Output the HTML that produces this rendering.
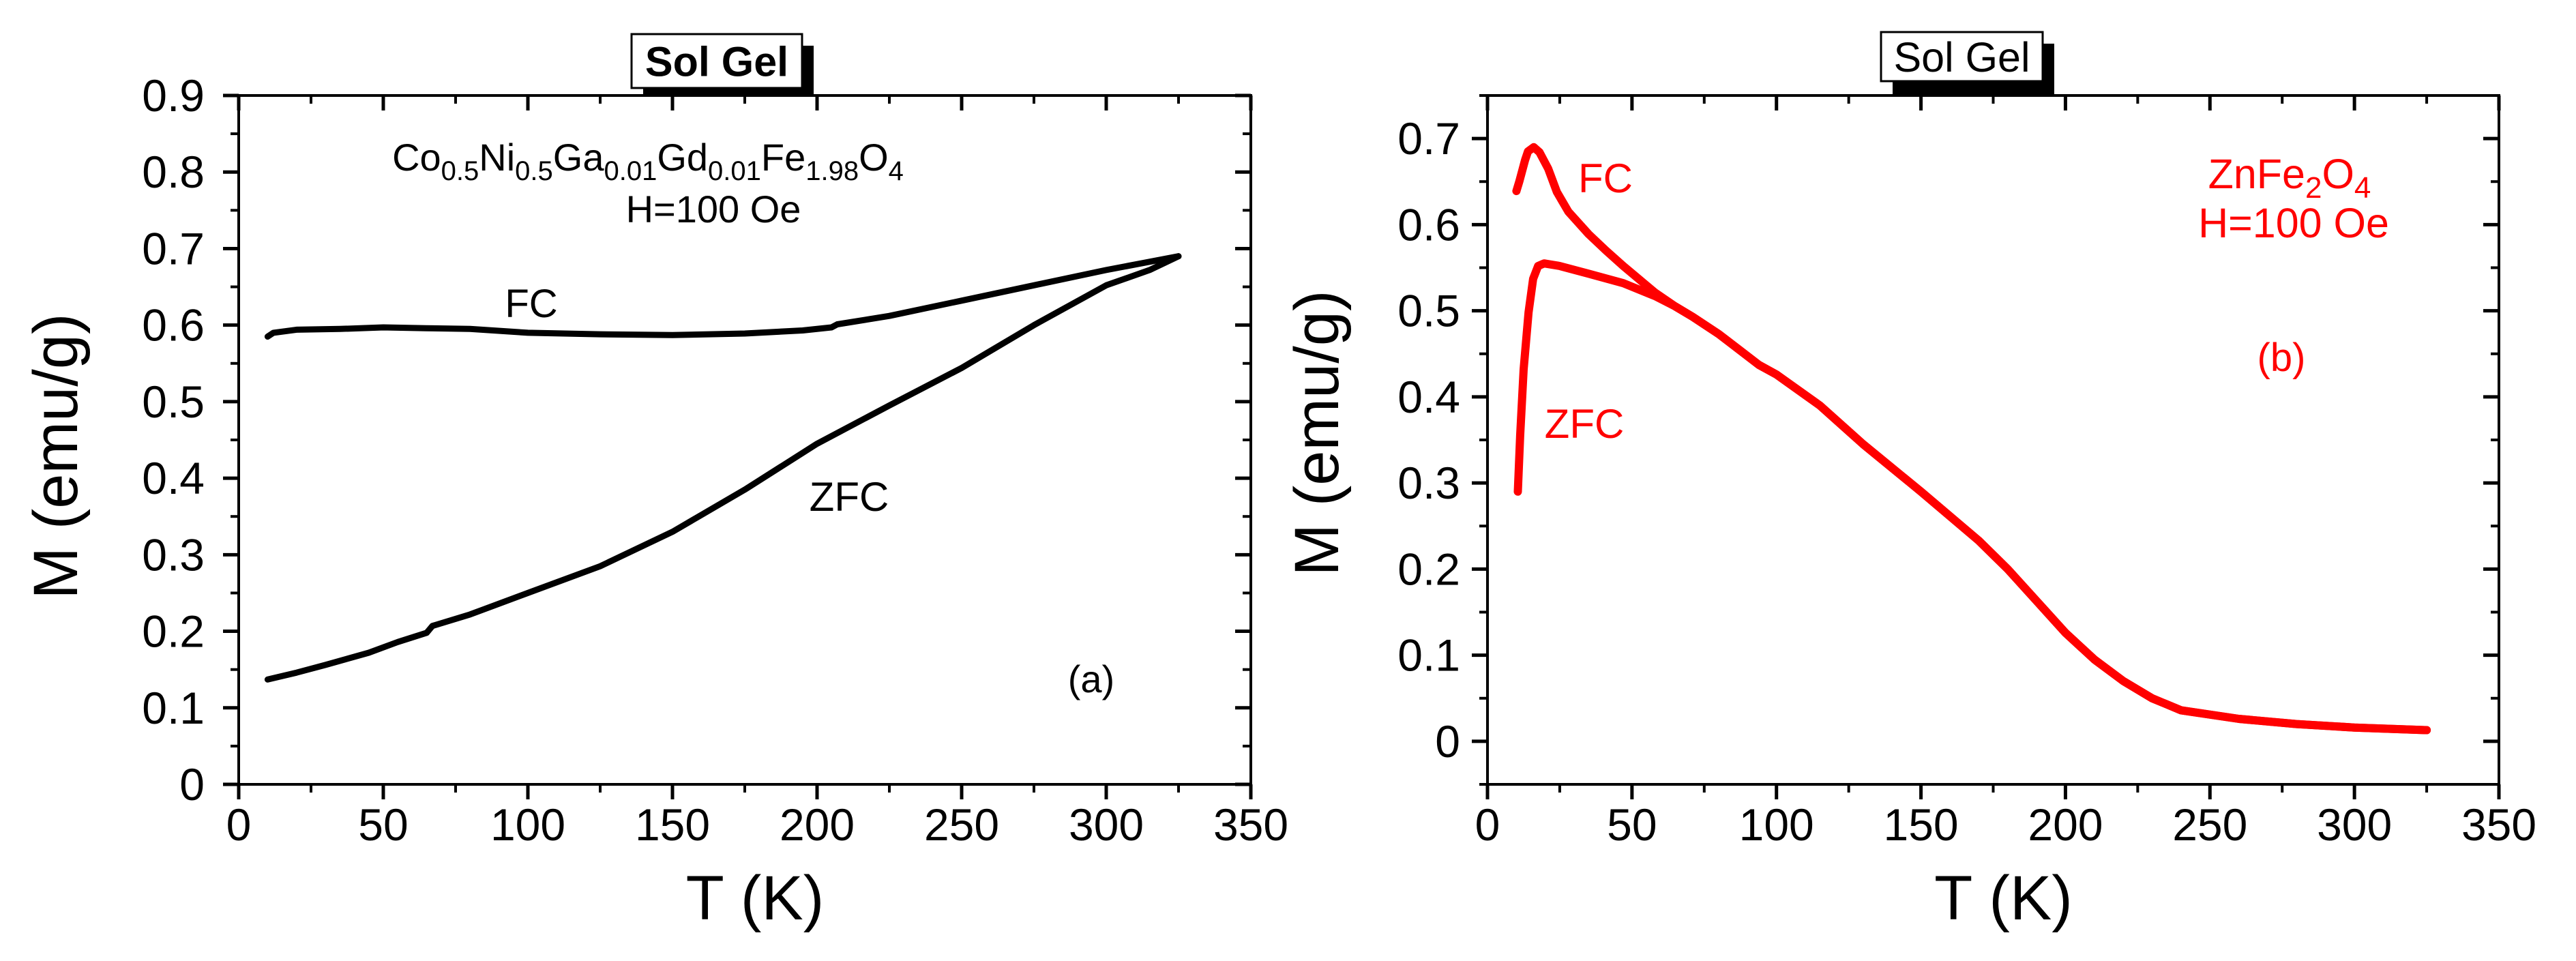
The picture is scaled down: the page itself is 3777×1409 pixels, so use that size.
<!DOCTYPE html>
<html><head><meta charset="utf-8"><style>
html,body{margin:0;padding:0;background:#fff;}
svg{display:block;font-family:"Liberation Sans",Arial,sans-serif;}
</style></head><body>
<svg id="chart" width="3777" height="1409" viewBox="0 0 3777 1409" xmlns="http://www.w3.org/2000/svg">
<g id="pa"></g>
<g id="pb"></g>
</svg>
<script>
// Panel (a) data
const aFC_T = [10,12,20,35,50,65,80,100,125,150,175,195,205,207,225,250,275,300,325];
const aFC_M = [0.585,0.59,0.594,0.595,0.597,0.596,0.595,0.59,0.588,0.587,0.589,0.593,0.597,0.601,0.612,0.632,0.652,0.672,0.69];
const aZFC_T = [10,20,30,45,55,65,67,80,100,125,150,175,200,225,250,275,300,315,325];
const aZFC_M = [0.137,0.146,0.156,0.172,0.186,0.198,0.207,0.222,0.25,0.285,0.33,0.385,0.445,0.495,0.544,0.6,0.652,0.672,0.69];
const aYTicks = ["0","0.1","0.2","0.3","0.4","0.5","0.6","0.7","0.8","0.9"];
const xTicks = ["0","50","100","150","200","250","300","350"];
// Panel (b) data
const bFC_T = [10,11,13,14,16,18,21,24,28,35,41,47,53,58,65,71,80,94,100,115,130,150,170,180,190,200,210,220,230,240,260,280,300,325];
const bFC_M = [0.639,0.65,0.675,0.685,0.69,0.684,0.665,0.638,0.615,0.589,0.57,0.552,0.535,0.521,0.505,0.493,0.473,0.437,0.426,0.39,0.345,0.29,0.233,0.2,0.163,0.126,0.095,0.07,0.05,0.036,0.026,0.02,0.016,0.013];
const bZFC_T = [10.5,11.3,12.5,14.2,15.8,17.5,19.6,25,35,47,58,65,71,80,94,100,115,130,150,170,180,190,200,210,220,230,240,260,280,300,325];
const bZFC_M = [0.29,0.355,0.432,0.498,0.537,0.552,0.555,0.552,0.543,0.532,0.517,0.505,0.493,0.473,0.437,0.426,0.39,0.345,0.29,0.233,0.2,0.163,0.126,0.095,0.07,0.05,0.036,0.026,0.02,0.016,0.013];
const bYTicks = ["0","0.1","0.2","0.3","0.4","0.5","0.6","0.7"];

const NS="http://www.w3.org/2000/svg";
function mk(parent,tag,attrs,txt){const e=document.createElementNS(NS,tag);for(const k in attrs)e.setAttribute(k,attrs[k]);if(txt!==undefined)e.textContent=txt;parent.appendChild(e);return e;}

function panel(g,cfg){
  const L=cfg.L,R=cfg.R,T=140,B=1150;
  const sx=v=>L+(v-0)/350*(R-L);
  const sy=v=>B-(v-cfg.ymin)/(cfg.ymax-cfg.ymin)*(B-T);
  cfg.series.forEach(s=>{
    let d="";s.t.forEach((t,i)=>{d+=(i?"L":"M")+sx(t).toFixed(1)+","+sy(s.m[i]).toFixed(1);});
    const p=mk(g,"path",{d:d,fill:"none",stroke:cfg.color,"stroke-width":cfg.sw,"stroke-linejoin":"round","stroke-linecap":"round"});
    
    
  });
  const f=mk(g,"rect",{x:L,y:T,width:R-L,height:B-T,fill:"none",stroke:"#000","stroke-width":4});
  
  
  for(let v=0;v<=350;v+=25){
    const major=v%50===0,x=sx(v),len=major?22:12;
    mk(g,"line",{x1:x,y1:B,x2:x,y2:B+len,stroke:"#000","stroke-width":major?5:4});
    mk(g,"line",{x1:x,y1:T,x2:x,y2:T+len,stroke:"#000","stroke-width":major?5:4});
  }
  xTicks.forEach((lab,i)=>{
    const t=mk(g,"text",{x:sx(i*50),y:1232,"font-size":66,"text-anchor":"middle"},lab);
    
    
  });
  for(let k=Math.round(cfg.ymin*20);k<=Math.round(cfg.ymax*20);k++){
    const v=k/20,major=k%2===0,y=sy(v),len=major?23:12;
    mk(g,"line",{x1:L,y1:y,x2:L-len,y2:y,stroke:"#000","stroke-width":major?5:4});
    mk(g,"line",{x1:R,y1:y,x2:R-len,y2:y,stroke:"#000","stroke-width":major?5:4});
  }
  cfg.yTicks.forEach((lab,i)=>{
    const t=mk(g,"text",{x:cfg.labR,y:sy(i*0.1)+23,"font-size":66,"text-anchor":"end"},lab);
    
    
  });
  const xt=mk(g,"text",{x:(L+R)/2+15,y:1348,"font-size":92,"text-anchor":"middle"},"T (K)");
  
  
  const yt=mk(g,"text",{x:0,y:0,"font-size":92,"text-anchor":"middle",transform:"translate("+(cfg.ytx+32)+","+cfg.yty+") rotate(-90)"},"M (emu/g)");
  
  
  const b=cfg.box;
  mk(g,"rect",{x:b.x+17,y:b.y+17,width:b.w,height:140-b.y-17,fill:"#000"});
  const br=mk(g,"rect",{x:b.x,y:b.y,width:b.w,height:b.h,fill:"#fff",stroke:"#000","stroke-width":3});
  
  
  const bt=mk(g,"text",{x:b.x+b.w/2,y:b.y+b.h/2+22,"font-size":61,"text-anchor":"middle","font-weight":cfg.bold?"bold":"normal"},"Sol Gel");
  
  
}

const ga=document.getElementById("pa"), gb=document.getElementById("pb");
panel(ga,{L:350,R:1834,ymin:0,ymax:0.9,color:"#000",sw:9,labR:300,ytx:81,yty:669,bold:true,
  box:{x:926,y:50,w:250,h:79},yTicks:aYTicks,
  series:[{name:'fc-curve-a',t:aFC_T,m:aFC_M},{name:'zfc-curve-a',t:aZFC_T,m:aZFC_M}]});
panel(gb,{L:2181,R:3664,ymin:-0.05,ymax:0.75,color:"#f00",sw:12,labR:2141,ytx:1930,yty:635,bold:false,
  box:{x:2758,y:47,w:237,h:72},yTicks:bYTicks,
  series:[{name:'fc-curve-b',t:bFC_T,m:bFC_M},{name:'zfc-curve-b',t:bZFC_T,m:bZFC_M}]});

function lab(g,x,y,size,color,txt,name){const t=mk(g,"text",{x:x,y:y,"font-size":size,"text-anchor":"middle",fill:color},txt);return t;}
lab(ga,779,465,58,"#000","FC","fc-label-a");
lab(ga,1245,749,60,"#000","ZFC","zfc-label-a");
lab(ga,1600,1015,56,"#000","(a)","panel-label-a");
lab(ga,1046,326,56,"#000","H=100 Oe","field-label-a");
const fm=mk(ga,"text",{x:950,y:250,"font-size":56,"text-anchor":"middle"});


[["Co",0],["0.5",1],["Ni",0],["0.5",1],["Ga",0],["0.01",1],["Gd",0],["0.01",1],["Fe",0],["1.98",1],["O",0],["4",1]].forEach(p=>{
  mk(fm,"tspan",{"font-size":p[1]?40:56,dy:p[1]?14:-14},p[0]);
});
fm.firstChild.setAttribute("dy","0");
lab(gb,2354,282,60,"#f00","FC","fc-label-b");
lab(gb,2323,642,60,"#f00","ZFC","zfc-label-b");
lab(gb,3345,544,58,"#f00","(b)","panel-label-b");
lab(gb,3363,348,61,"#f00","H=100 Oe","field-label-b");
const zn=mk(gb,"text",{x:3357,y:276,"font-size":61,"text-anchor":"middle",fill:"#f00"});


[["ZnFe",0,0],["2",1,14],["O",0,-14],["4",1,14]].forEach(p=>{mk(zn,"tspan",{"font-size":p[1]?44:61,dy:p[2]},p[0]);});
</script>
</body></html>
